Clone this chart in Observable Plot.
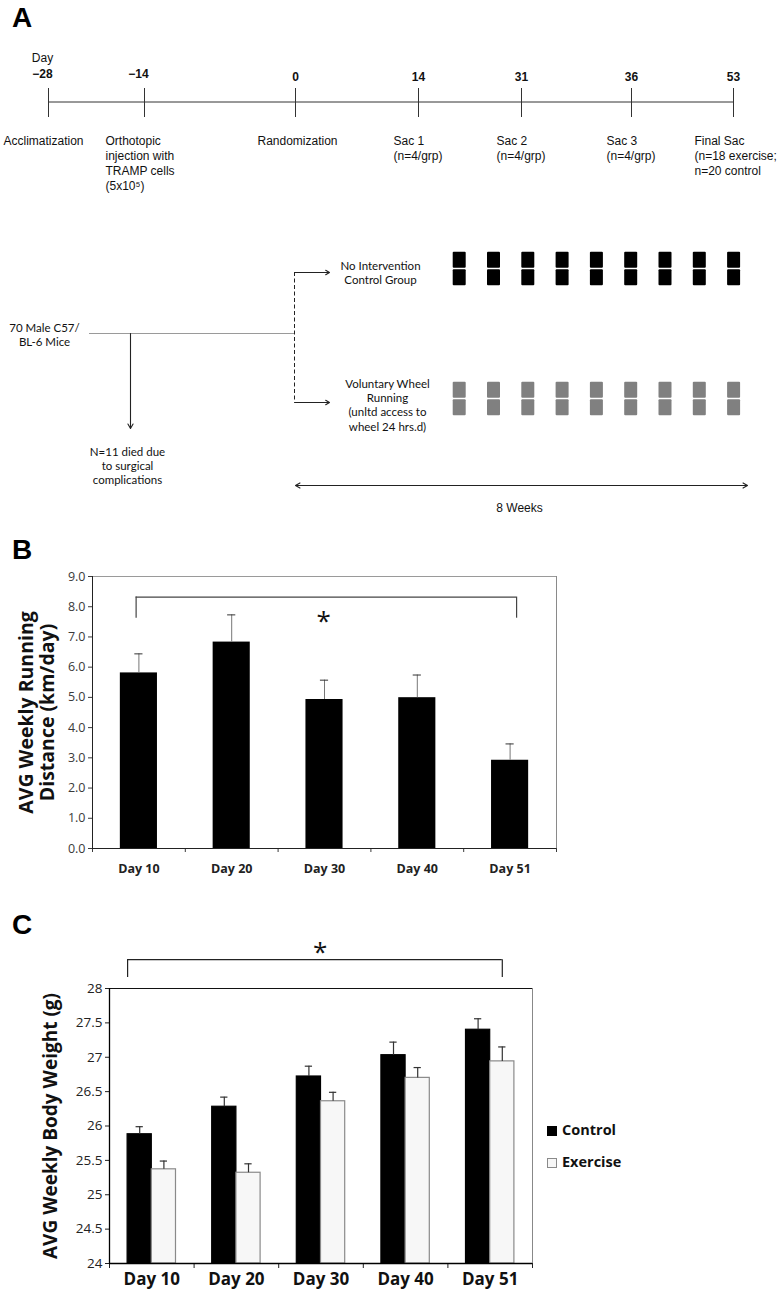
<!DOCTYPE html>
<html>
<head>
<meta charset="utf-8">
<script src="https://cdn.jsdelivr.net/npm/d3@7"></script>
<script src="https://cdn.jsdelivr.net/npm/@observablehq/plot@0.6"></script>
<style>
  body { margin: 0; background: #fff; }
  #fig { position: relative; width: 780px; height: 1290px; overflow: hidden; background: #fff; }
  .letter { position: absolute; left: 12px; font: bold 28px "Liberation Sans", Arial, sans-serif; line-height: 28px; color: #000; }
  .wrap { position: absolute; left: 0; }
  .wrap svg { overflow: visible; }
</style>
</head>
<body>
<div id="fig"></div>
<script>
// ================= DATA =================
// Panel A – study timeline
const timelineDays = [-28, -14, 0, 14, 31, 36, 53];
const timelineEvents = [
  "Acclimatization",
  "Orthotopic\ninjection with\nTRAMP cells\n(5x10⁵)",
  "Randomization",
  "Sac 1\n(n=4/grp)",
  "Sac 2\n(n=4/grp)",
  "Sac 3\n(n=4/grp)",
  "Final Sac\n(n=18 exercise;\nn=20 control"
];
const dayHeader = "Day";
const startLabel = "70 Male C57/\nBL-6 Mice";
const lossLabel = "N=11 died due\nto surgical\ncomplications";
const groupLabels = ["No Intervention\nControl Group", "Voluntary Wheel\nRunning\n(unltd access to\nwheel 24 hrs.d)"];
const weeklyBoxes = [1, 2, 3, 4, 5, 6, 7, 8, 9];
const durationLabel = "8 Weeks";

// Panel B – running distance
const runDays = ["Day 10", "Day 20", "Day 30", "Day 40", "Day 51"];
const runMean = [5.81, 6.83, 4.93, 4.99, 2.92];
const runErr  = [0.63, 0.90, 0.64, 0.75, 0.54];
const runTicks = [0, 1, 2, 3, 4, 5, 6, 7, 8, 9];
const runTitle = "AVG Weekly Running\nDistance (km/day)";

// Panel C – body weight
const weightDays = ["Day 10", "Day 20", "Day 30", "Day 40", "Day 51"];
const groups = ["Control", "Exercise"];
const controlMean  = [25.88, 26.28, 26.72, 27.03, 27.40];
const controlErr   = [0.11, 0.14, 0.15, 0.19, 0.16];
const exerciseMean = [25.37, 25.32, 26.36, 26.70, 26.94];
const exerciseErr  = [0.12, 0.13, 0.13, 0.15, 0.21];
const weightTicks = [24, 24.5, 25, 25.5, 26, 26.5, 27, 27.5, 28];
const weightTitle = "AVG Weekly Body Weight (g)";
const sigMark = "*";

// ================= LAYOUT / STYLE =================
const fig = document.getElementById("fig");
const ARIAL = "'Liberation Sans', Arial, sans-serif";
const CALIBRI = "Lato, 'Open Sans', sans-serif";
const OPEN = "'Open Sans', sans-serif";
const groupFill = {Control: "#000000", Exercise: "#f7f7f7"};
const groupStroke = {Control: "#000000", Exercise: "#8a8a8a"};

function place(node, top, width) {
  const d = document.createElement("div");
  d.className = "wrap";
  d.style.top = top + "px";
  d.style.width = width + "px";
  d.appendChild(node);
  fig.appendChild(d);
}
function letter(t, top) {
  const d = document.createElement("div");
  d.className = "letter";
  d.style.top = top + "px";
  d.textContent = t;
  fig.appendChild(d);
}

// ---------- Panel A: timeline ----------
const eventLayout = [
  {anchor: "middle", dx: -5}, {anchor: "start", dx: -39}, {anchor: "middle", dx: 2},
  {anchor: "start", dx: -25}, {anchor: "start", dx: -25}, {anchor: "start", dx: -25},
  {anchor: "start", dx: -39}
];
const fmtDay = d => d < 0 ? "\u2212" + (-d) : String(d);
const A1 = Plot.plot({
  width: 780, height: 200, margin: 0,
  style: {fontFamily: ARIAL, fontSize: "12px", color: "#111", background: "transparent"},
  x: {type: "linear", domain: timelineDays, range: [48, 144, 295, 418, 521, 631, 733], axis: null},
  y: {type: "linear", domain: [0, 200], range: [0, 200], axis: null},
  marks: [
    Plot.ruleY([101.5], {x1: timelineDays[0], x2: timelineDays[timelineDays.length - 1], stroke: "#333"}),
    Plot.ruleX(timelineDays, {y1: 88, y2: 117, stroke: "#333"}),
    Plot.text(timelineDays.filter(d => d < 0), {x: d => d, y: 74, text: fmtDay, fontWeight: "bold", dx: -6}),
    Plot.text(timelineDays.filter(d => d >= 0), {x: d => d, y: 77, text: fmtDay, fontWeight: "bold"}),
    Plot.text([dayHeader], {x: timelineDays[0], y: 58, dx: -6}),
    ...timelineEvents.map((t, i) => Plot.text([t], {
      x: timelineDays[i], y: 134, textAnchor: eventLayout[i].anchor, dx: eventLayout[i].dx,
      lineAnchor: "top", lineHeight: 1.25
    }))
  ]
});
place(A1, 0, 780);

// ---------- Panel A: study design schema ----------
const boxRows = [
  {group: "Control", top: 251.7, fill: "#000"},
  {group: "Exercise", top: 381.7, fill: "#808080"}
];
const boxes = [];
for (const r of boxRows) for (const w of weeklyBoxes) {
  const x1 = 452.7 + 34.3 * (w - 1);
  boxes.push({x1, x2: x1 + 13, y1: r.top, y2: r.top + 16, fill: r.fill});
  boxes.push({x1, x2: x1 + 13, y1: r.top + 17.5, y2: r.top + 33.5, fill: r.fill});
}
const A2 = Plot.plot({
  width: 780, height: 320, margin: 0,
  style: {fontFamily: CALIBRI, fontSize: "11.5px", color: "#111", background: "transparent"},
  x: {type: "linear", domain: [0, 780], range: [0, 780], axis: null},
  y: {type: "linear", domain: [200, 520], range: [0, 320], axis: null},
  marks: [
    Plot.text([startLabel], {x: 44, y: 334, lineHeight: 1.2}),
    Plot.ruleY([333], {x1: 89, x2: 294, stroke: "#9a9a9a"}),
    Plot.arrow([lossLabel], {x1: 130, y1: 333, x2: 130, y2: 428, stroke: "#222", headLength: 7, strokeWidth: 1.1}),
    Plot.text([lossLabel], {x: 127, y: 465, lineHeight: 1.22}),
    Plot.ruleX([294], {y1: 272, y2: 402, stroke: "#222", strokeDasharray: "4,2.5"}),
    Plot.arrow(groupLabels, {x1: 294, x2: 329, y1: (d, i) => [272, 402][i], y2: (d, i) => [272, 402][i], stroke: "#222", headLength: 6, strokeWidth: 1.1}),
    Plot.text(groupLabels, {x: (d, i) => [380, 387][i], y: (d, i) => [272, 404][i], lineHeight: 1.25}),
    Plot.rect(boxes, {x1: "x1", x2: "x2", y1: "y1", y2: "y2", fill: "fill", rx: 1}),
    Plot.arrow([0, 1], {x1: 521, x2: (d, i) => [295, 747][i], y1: 485, y2: 485, stroke: "#222", headLength: 7, strokeWidth: 1.1}),
    Plot.text([durationLabel], {x: 519, y: 508, fontFamily: ARIAL, fontSize: 12})
  ]
});
place(A2, 200, 780);

// ---------- Panel B ----------
const runData = runDays.map((day, i) => ({day, i, mean: runMean[i], err: runErr[i]}));
const B = Plot.plot({
  width: 600, height: 370,
  marginLeft: 92, marginTop: 56, marginBottom: 42, marginRight: 44,
  style: {fontFamily: OPEN, fontSize: "12.5px", color: "#3a3a3a", background: "transparent"},
  x: {type: "linear", domain: [0, 5], ticks: [0, 1, 2, 3, 4, 5], tickFormat: () => "", tickSize: 4, label: null},
  y: {type: "linear", domain: [0, 9], ticks: runTicks, tickFormat: d => d.toFixed(1), tickSize: 4, tickPadding: 3, label: null},
  marks: [
    Plot.ruleY([9], {stroke: "#9a9a9a"}),
    Plot.ruleX([5], {stroke: "#8a8a8a"}),
    Plot.rectY(runData, {x1: d => d.i + 0.3, x2: d => d.i + 0.7, y1: 0, y2: "mean", fill: "#000"}),
    Plot.ruleX(runData, {x: d => d.i + 0.5, y1: "mean", y2: d => d.mean + d.err, stroke: "#777"}),
    Plot.ruleY(runData, {x1: d => d.i + 0.456, x2: d => d.i + 0.544, y: d => d.mean + d.err, stroke: "#333"}),
    Plot.ruleX([0], {stroke: "#222"}),
    Plot.ruleY([0], {stroke: "#222"}),
    Plot.text(runData, {x: d => d.i + 0.5, y: 0, dy: 20, text: "day", fontWeight: "bold", fontSize: 12.5, fill: "#222"}),
    // significance bracket
    Plot.ruleY([8.32], {x1: 0.47, x2: 4.57, stroke: "#444", strokeWidth: 1.2}),
    Plot.ruleX([0.47, 4.57], {y1: 7.62, y2: 8.32, stroke: "#444", strokeWidth: 1.2}),
    Plot.text([sigMark], {x: 2.49, y: 7.5, fontSize: 26, fill: "#111"}),
    Plot.text([runTitle], {frameAnchor: "left", textAnchor: "middle", dx: -56, rotate: -90, fontWeight: "bold", fontSize: 19.5, lineHeight: 1.08, fill: "#111"})
  ]
});
place(B, 520, 600);

// ---------- Panel C ----------
const weightData = [];
weightDays.forEach((day, i) => {
  weightData.push({day, i, group: "Control", mean: controlMean[i], err: controlErr[i], off: -1});
  weightData.push({day, i, group: "Exercise", mean: exerciseMean[i], err: exerciseErr[i], off: 0});
});
const BW = 0.286; // bar width in category units
const C = Plot.plot({
  width: 600, height: 390,
  marginLeft: 109, marginTop: 88, marginBottom: 27, marginRight: 68,
  style: {fontFamily: OPEN, fontSize: "13.5px", color: "#222", background: "transparent"},
  x: {type: "linear", domain: [0, 5], ticks: [0, 1, 2, 3, 4, 5], tickFormat: () => "", tickSize: 5, label: null},
  y: {type: "linear", domain: [24, 28], ticks: weightTicks, tickFormat: d => String(d), tickSize: 4, tickPadding: 3, label: null},
  marks: [
    Plot.ruleY([28], {stroke: "#111"}),
    Plot.ruleX([5], {stroke: "#888"}),
    Plot.rectY(weightData, {
      x1: d => d.i + 0.5 + d.off * BW, x2: d => d.i + 0.5 + (d.off + 1) * BW,
      y1: 24, y2: "mean", fill: d => groupFill[d.group], stroke: d => groupStroke[d.group], strokeWidth: 1.2
    }),
    Plot.ruleX(weightData, {x: d => d.i + 0.5 + (d.off + 0.5) * BW, y1: "mean", y2: d => d.mean + d.err, stroke: "#333", strokeWidth: 1.2}),
    Plot.ruleY(weightData, {x1: d => d.i + 0.5 + (d.off + 0.5) * BW - 0.043, x2: d => d.i + 0.5 + (d.off + 0.5) * BW + 0.043, y: d => d.mean + d.err, stroke: "#333", strokeWidth: 1.2}),
    Plot.ruleX([0], {stroke: "#000", strokeWidth: 1.3}),
    Plot.ruleY([24], {stroke: "#000", strokeWidth: 1.3}),
    Plot.text(weightDays, {x: (d, i) => i + 0.5, y: 24, dy: 16.5, text: d => d, fontWeight: "bold", fontSize: 17, fill: "#111"}),
    // significance bracket (from first Control bar edge to last Exercise bar centre)
    Plot.ruleY([28.42], {x1: 0.5 - BW, x2: 4.5 + BW / 2, stroke: "#222", strokeWidth: 1.2}),
    Plot.ruleX([0.5 - BW, 4.5 + BW / 2], {y1: 28.16, y2: 28.42, stroke: "#222", strokeWidth: 1.2}),
    Plot.text([sigMark], {x: 2.49, y: 28.52, fontSize: 26, fill: "#111"}),
    Plot.text([weightTitle], {frameAnchor: "left", textAnchor: "middle", dx: -59, rotate: -90, fontWeight: "bold", fontSize: 19, fill: "#111"})
  ]
});
place(C, 900, 600);

// legend for panel C
const legend = document.createElement("div");
legend.style.cssText = "position:absolute;left:547px;top:1119px;font:bold 14.5px 'Open Sans',sans-serif;color:#111;";
groups.forEach(g => {
  const row = document.createElement("div");
  row.style.cssText = "height:22px;line-height:22px;margin-bottom:10px;white-space:nowrap;";
  const sw = document.createElement("span");
  sw.style.cssText = `display:inline-block;box-sizing:border-box;width:10px;height:10px;margin-right:5px;vertical-align:-1px;background:${groupFill[g]};border:1px solid ${groupStroke[g]};`;
  row.appendChild(sw);
  row.appendChild(document.createTextNode(g));
  legend.appendChild(row);
});
fig.appendChild(legend);

// panel letters
letter("A", 4);
letter("B", 536);
letter("C", 911);
</script>
</body>
</html>
